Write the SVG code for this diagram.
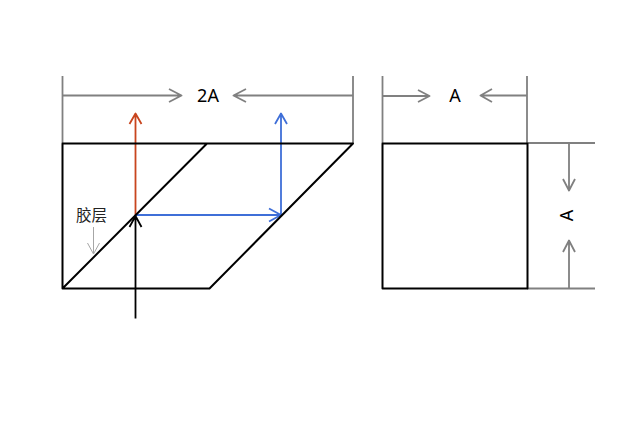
<svg xmlns="http://www.w3.org/2000/svg" width="640" height="427" viewBox="0 0 640 427">
<style>
.g{fill:none;stroke:#808080;stroke-width:1.8;stroke-linejoin:round}
.k{fill:none;stroke:#000;stroke-width:2;stroke-linejoin:round}
.r{fill:none;stroke:#c8451e;stroke-width:1.8;stroke-linejoin:round}
.b{fill:none;stroke:#3f6fd8;stroke-width:1.8;stroke-linejoin:round}
.t{font-family:"Noto Sans","DejaVu Sans",sans-serif;font-size:18px;fill:#000;text-anchor:middle}
</style>
<rect width="640" height="427" fill="#fff"/>
<g id="connectors">
<path class="g" d="M62.500 76V143M353 76V143M62 95.500H181M169 89L181.500 95.500L169 102M353 95.500H234M246 89L233.500 95.500L246 102"/>
<path class="g" d="M382.500 76V143M527 76V143M382 96H429M418 90L429.500 96L418 102M527 95.500H481M492 89L480.500 95.500L492 102"/>
<path class="g" d="M527 143H595M527 288.500H595M569 143V190M563 179L569 190.500L575 179M569 288V241M563 252L569 240.500L575 252"/>
<path class="r" d="M135.500 215V114M129.500 124L135.500 113.500L141.500 124"/>
<path class="b" d="M135.500 215H281M269 208.500L281 215L269 221.500M281 215V114M275 124L281 113.500L287 124"/>
<path d="M135.500 318.500V216M129.500 227L135.500 216L141.500 227" fill="none" stroke="#000" stroke-width="1.800" stroke-linejoin="round"/>
<path d="M93.500 227V253M87.500 243L93.500 254L99.500 243" fill="none" stroke="#a6a6a6" stroke-width="1"/>
</g>
<g id="prism"><path class="k" d="M62.500 143.500H353L209.500 288.500H62.500ZM62.500 288.500L207 143.500"/></g>
<g id="cube"><rect class="k" x="382.500" y="143.500" width="145" height="145"/></g>
<g id="label-2a"><text class="t" x="208" y="102">2A</text></g>
<g id="label-a-top"><text class="t" x="455" y="102">A</text></g>
<g id="label-a-side"><text class="t" transform="translate(573 215.500) rotate(-90)">A</text></g>
<g id="label-glue"><text x="91.500" y="220.500" font-family="'Noto Sans CJK SC',sans-serif" font-size="15.500" text-anchor="middle" fill="#222">胶层</text></g>
</svg>
